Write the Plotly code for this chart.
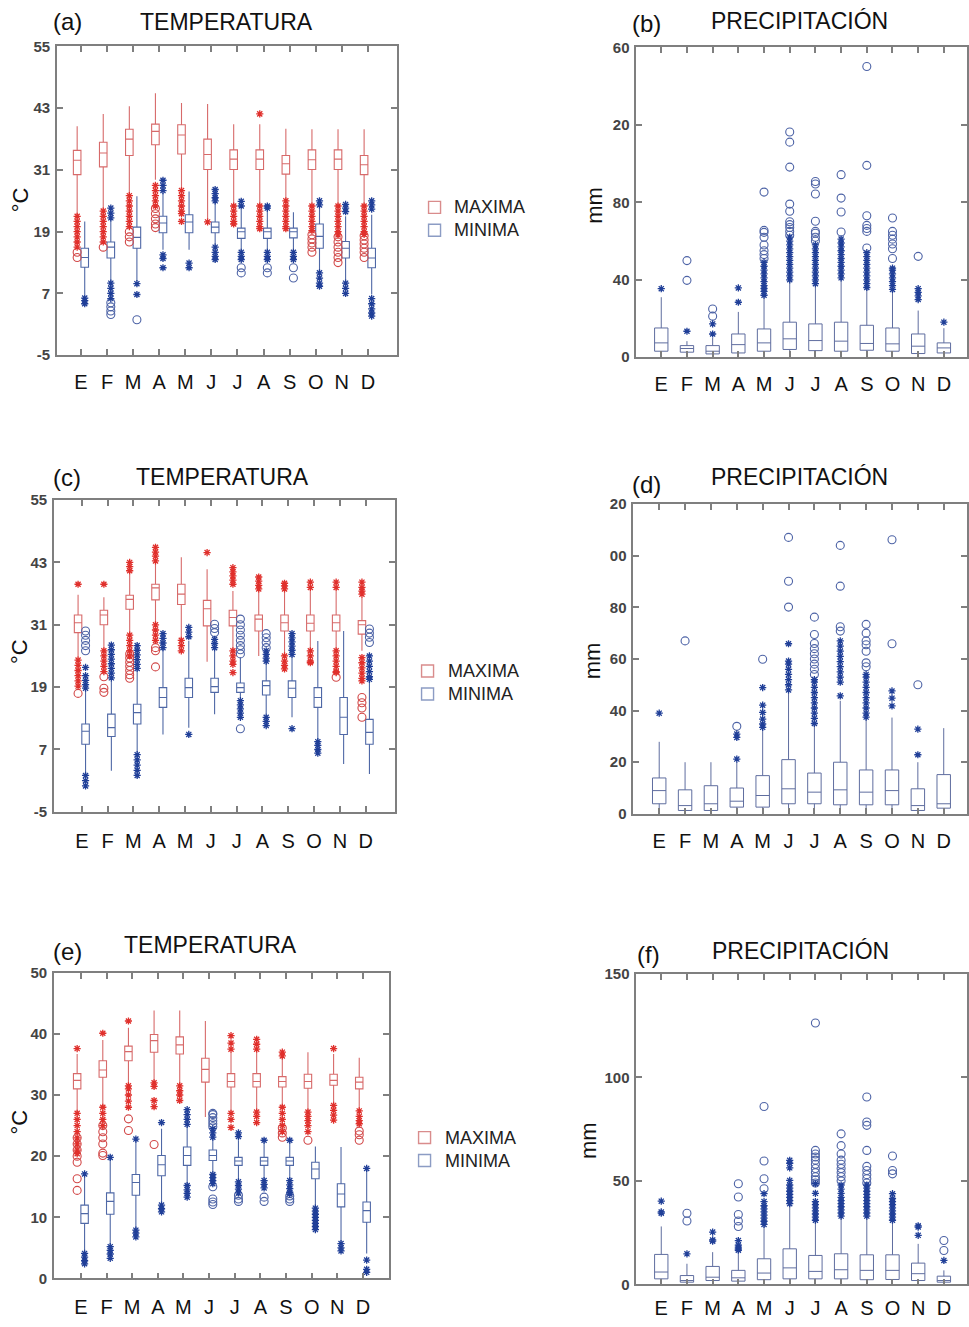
import plotly.graph_objects as go

W, H = 969, 1327
FONT = "Liberation Sans, Arial, sans-serif"

MONTHS = ["E", "F", "M", "A", "M", "J", "J", "A", "S", "O", "N", "D"]

# ---- box statistics per month: (lower whisker, q1, median, q3, upper whisker)
# ---- *_star: outside values (asterisks), *_ring: far outside values (circles)

# (a) temperature
a_max_box = [(22.3, 30.1, 32.9, 34.8, 39.5), (23.3, 31.6, 34.3, 36.4, 41.9), (26.3, 33.8, 37.0, 38.9, 43.4),
             (29.1, 35.9, 38.5, 39.9, 45.9), (27.4, 34.1, 37.8, 39.8, 44.0), (21.5, 31.1, 34.0, 37.0, 43.8),
             (24.3, 31.1, 33.1, 34.9, 39.9), (24.3, 31.1, 33.1, 34.9, 39.9), (25.2, 30.2, 32.2, 33.8, 39.0),
             (24.3, 31.1, 33.0, 34.9, 38.9), (24.3, 31.1, 33.1, 34.9, 38.9), (24.3, 30.1, 32.0, 33.8, 38.9)]
a_max_star = [[22, 21, 20, 19, 18, 17, 16], [23, 22, 21, 20, 19, 18, 17], [26, 25, 24, 23, 22, 21, 20],
              [28, 27, 26, 25, 24], [27, 26, 25, 24, 23, 22.5, 21], [20.9],
              [24, 23, 22, 21, 20.5], [41.9, 24, 23, 22, 21, 20, 19.6], [25, 24, 23, 22, 21, 20, 19.6],
              [24, 23, 22, 21, 20, 19.2], [24, 23, 22, 21, 20, 19, 18.4], [24, 23, 22, 21, 20, 19, 18.5]]
a_max_ring = [[15, 14], [16], [19, 18, 17], [23.5, 22.5, 21.5, 20.5, 19.8], [], [],
              [], [], [], [18.4, 17.6, 16.8, 16, 15], [18, 17, 16, 15, 14, 13], [18.2, 17.4, 16.6, 15.8, 15, 14]]
a_min_box = [(6.8, 12.1, 14.0, 15.8, 21.0), (9.4, 13.9, 16.0, 17.0, 21.3), (9.4, 15.8, 17.9, 19.9, 25.9),
             (15.5, 18.8, 20.7, 22.0, 26.5), (15.5, 18.8, 20.9, 22.3, 26.8), (16.5, 18.8, 19.9, 20.9, 24.6),
             (15.2, 17.7, 19.0, 19.7, 23.3), (15.2, 17.7, 19.0, 19.7, 23.3), (15.3, 17.8, 19.0, 19.7, 22.8),
             (11.3, 15.8, 18.1, 20.5, 23.9), (9.4, 13.9, 15.8, 17.1, 22.0), (6.8, 12.0, 13.9, 15.8, 22.3)]
a_min_star = [[6.1, 5.6, 5.0], [23.6, 22.6, 21.7, 9.0, 8.0, 7.0, 6.0], [8.9, 6.8],
              [29.0, 28.0, 27.0, 14.5, 13.8, 12.0], [12.9, 12.0], [27.2, 26.4, 25.6, 25.0, 16, 15, 14.2, 13.6],
              [24.9, 24.0, 15, 14.2, 13.6], [24.0, 23.6, 15, 14.2, 13.6], [15, 14.2, 13.6],
              [25.0, 24.2, 11.0, 10.0, 9.0, 8.4], [24.3, 23.6, 22.9, 9.0, 8.0, 7.0], [25.0, 24.2, 23.4, 6.0, 5.0, 4.0, 3.2, 2.6]]
a_min_ring = [[], [5.2, 4.4, 3.6, 2.9], [1.9], [], [], [], [12.0, 11.0], [12.0, 11.0], [12.0, 10.0], [], [], []]

# (b) precipitation
b_box = [(0, 3.1, 7.4, 15.1, 31.0), (0, 2.6, 4.5, 6.0, 8.3), (0, 1.7, 3.1, 6.0, 10.0), (0, 2.2, 6.5, 12.0, 23.4),
         (0, 3.1, 7.4, 14.6, 31.5), (0, 4.0, 9.5, 18.1, 39.2), (0, 3.4, 8.6, 17.2, 37.8), (0, 3.1, 8.3, 18.1, 40.1),
         (0, 3.6, 7.1, 16.5, 35.8), (0, 3.1, 6.9, 15.1, 34.1), (0, 1.9, 5.7, 12.0, 24.1), (0, 2.2, 4.8, 7.4, 15.0)]
b_star = [[35.4], [13.4], [12.0, 17.2], [28.4, 35.8],
          [32, 34, 35.5, 37, 39, 41, 43, 45, 47, 49],
          [40, 42, 44, 46, 48, 50, 52, 54, 56, 58, 60, 62],
          [38, 40, 42, 44, 46, 48, 50, 52, 54, 56, 58],
          [41, 43, 45, 47, 49, 51, 53, 55, 57, 59, 61],
          [36, 38, 40, 42, 44, 46, 48, 50, 52, 54],
          [35, 37, 39, 41, 43, 45, 46], [29.8, 31.7, 33.5, 35.4], [18.1]]
b_ring = [[], [39.7, 49.9], [21.2, 24.9], [],
          [51, 53, 55, 58, 62, 64.5, 65.5, 85.3],
          [63, 65, 67, 68.5, 70, 75.4, 79.1, 98.2, 111.1, 116.3],
          [60, 62, 64, 65, 70.2, 84.3, 89.5, 90.8],
          [64.7, 75, 82.2, 94.3],
          [56.4, 65, 66.5, 68.1, 73.1, 99.1, 150.2],
          [51, 56, 58.5, 61, 63, 65, 71.9], [52.1], []]

# (c) temperature
c_max_box = [(24.7, 29.5, 31.4, 32.9, 36.8), (26.3, 31.0, 32.9, 33.8, 36.3), (29.2, 34.0, 35.9, 36.7, 40.8),
             (31.1, 35.8, 38.1, 38.8, 43.0), (28.2, 34.9, 36.9, 38.8, 44.0), (23.9, 30.8, 34.1, 35.7, 41.7),
             (26.0, 30.8, 32.4, 33.8, 37.5), (25.0, 29.8, 32.1, 32.9, 37.5), (25.2, 29.8, 31.4, 32.9, 37.5),
             (26.1, 29.8, 31.3, 32.9, 37.5), (26.1, 29.8, 31.4, 32.9, 37.5), (26.0, 29.2, 31.0, 31.8, 36.3)]
c_max_star = [[38.8, 24.2, 23.2, 22.2, 21.2, 20.2, 19.2], [38.8, 26, 25, 24, 23, 22],
              [43.0, 42.2, 41.4, 29, 28, 27, 26, 25], [45.9, 45.0, 44.2, 43.3, 31.0, 30.0, 29.0, 28.0],
              [28.0, 27.0, 26.0], [44.9], [42.0, 41.2, 40.4, 39.6, 38.8, 26, 25, 24, 23.4, 21.8],
              [40.2, 39.4, 38.6, 37.9], [39.0, 38.5, 37.9, 25.0, 24.0, 23.2, 22.5],
              [39.2, 38.2, 26, 25, 24, 23.7], [39.2, 38.2, 26, 25, 24, 23, 22, 21.8],
              [39.2, 38.2, 37.5, 36.9, 24.7, 23.7, 22.7, 21.7, 20.7, 20.2]]
c_max_ring = [[17.8], [21.0, 18.8, 18.0], [25.4, 24.6, 23.8, 23.0, 22.2, 21.4, 20.7], [26.6, 26.0, 22.9],
              [], [], [], [], [], [], [20.9], [17.0, 16.0, 15.0, 13.2]]
c_min_box = [(2.3, 8.0, 10.5, 11.9, 18.3), (2.9, 9.5, 11.2, 13.8, 20.2), (6.4, 11.9, 14.1, 15.7, 22.0),
             (9.9, 15.1, 17.0, 18.9, 26.3), (11.2, 17.0, 18.9, 20.7, 27.9), (13.8, 18.0, 19.1, 20.7, 26.3),
             (17.0, 18.0, 18.9, 19.8, 24.7), (13.8, 17.5, 19.3, 20.2, 23.7), (13.2, 17.0, 18.8, 20.2, 24.7),
             (8.7, 15.1, 17.0, 18.9, 27.9), (4.2, 9.9, 13.2, 17.0, 29.8), (2.3, 8.0, 10.3, 12.8, 20.2)]
c_min_star = [[18.8, 19.5, 20.3, 21.2, 22.8, 2.0, 1.0, 0.0],
              [27.1, 26.2, 25.3, 24.4, 23.5, 22.6, 21.7, 20.8],
              [27.0, 26.1, 25.2, 24.3, 23.4, 22.6, 6.0, 5.0, 4.0, 3.0, 2.0],
              [29.3, 28.4, 27.5, 26.6], [30.5, 29.6, 28.7, 9.9], [28.2, 27.4, 26.6],
              [16.4, 15.6, 14.8, 14.0, 13.2], [26.0, 25.3, 24.6, 24.0, 13.2, 12.4, 11.6],
              [29.3, 28.5, 27.7, 26.9, 26.1, 25.3, 11.0], [8.5, 7.8, 7.0, 6.3], [],
              [25.0, 24.0, 23.0, 22.0, 21.0, 20.5]]
c_min_ring = [[26.0, 27.0, 28.0, 29.0, 29.8], [], [], [], [], [31.1, 30.3, 29.5],
              [32.1, 31.0, 30.0, 29.0, 28.0, 27.0, 26.2, 25.4, 11.0], [29.3, 28.5, 27.6, 26.6],
              [], [], [], [30.2, 29.4, 28.6, 27.6]]

# (d) precipitation
d_box = [(0, 3.9, 9.0, 13.9, 27.9), (0, 1.3, 3.2, 9.3, 20.0), (0, 1.3, 3.9, 10.9, 20.0), (0, 2.6, 4.9, 10.0, 20.0),
         (0, 2.6, 7.1, 14.8, 32.8), (0, 3.9, 9.7, 21.0, 47.6), (0, 3.9, 8.4, 15.8, 34.8), (0, 3.5, 9.3, 20.0, 43.8),
         (0, 3.5, 8.4, 17.0, 37.3), (0, 3.5, 9.0, 17.0, 37.3), (0, 1.3, 3.2, 9.7, 20.0), (0, 2.2, 3.9, 15.2, 33.2)]
d_star = [[39.0], [], [], [21.2, 29.6, 30.9],
          [33.5, 34.8, 36.7, 39.3, 42.1, 48.9],
          [48, 50, 52, 54, 56, 58, 59.2, 65.9],
          [35, 37, 39, 41, 43, 45, 47, 49, 51, 52],
          [45.7, 51, 53, 55, 57, 59, 61, 63, 65, 67],
          [37.5, 39, 41, 43, 45, 47, 49, 51, 53, 54],
          [41.8, 44.8, 47.6], [22.9, 32.8], []]
d_ring = [[], [67.0], [], [33.9], [59.9], [80.1, 90.1, 107.1],
          [54, 56, 58, 60, 62, 64, 66, 69.5, 76.2], [70.8, 72.5, 88.2, 104.0],
          [57, 58.5, 63, 65.5, 67, 70, 73.4], [65.9, 106.2], [50.0], []]

# (e) temperature
e_max_box = [(27.2, 31.0, 32.4, 33.5, 36.7), (28.0, 32.9, 34.1, 35.6, 39.0), (31.8, 35.6, 37.1, 38.0, 41.0),
             (32.3, 37.0, 38.9, 39.9, 43.8), (31.8, 36.7, 38.2, 39.5, 43.8), (26.4, 32.1, 34.2, 36.0, 42.1),
             (27.4, 31.3, 32.2, 33.5, 37.0), (27.4, 31.3, 32.2, 33.5, 37.0), (28.0, 31.3, 32.2, 33.0, 36.1),
             (27.4, 31.1, 32.2, 33.4, 37.0), (28.3, 31.6, 32.4, 33.4, 36.7), (27.4, 31.0, 32.1, 32.9, 36.1)]
e_max_star = [[37.6, 27, 26, 25, 24, 23, 22, 21, 20.4], [40.1, 28, 27, 26, 25], [42.1, 31.5, 31, 30, 29, 28],
              [32.0, 31.4, 29.1, 28.1], [31.5, 30.7, 30.0, 29.1], [],
              [39.7, 38.5, 37.5, 27, 26, 24.7], [39.1, 38.3, 37.5, 27.2, 26.5, 25.5],
              [37.0, 36.4, 28, 27, 26, 25, 24], [27.2, 26.5, 25.8, 25, 24],
              [37.6, 28.3, 27.5, 26.7, 25.9], [27.4, 26.5, 25.8, 25.3]]
e_max_ring = [[23, 22, 21, 20, 19, 16.3, 14.4], [25, 24, 23, 22, 20.5, 20.1], [26.1, 24.2], [21.9], [], [],
              [], [], [24.6, 23.8, 23.1], [22.6], [], [24.1, 23.5, 22.6]]
e_min_box = [(4.3, 9.0, 10.6, 12.0, 17.1), (5.4, 10.5, 12.6, 14.0, 19.8), (8.2, 13.6, 15.7, 17.0, 23.1),
             (12.2, 16.8, 18.6, 20.1, 24.5), (15.5, 18.5, 20.1, 21.5, 26.4), (17.5, 19.3, 20.1, 21.0, 22.8),
             (16.0, 18.5, 19.2, 19.8, 22.6), (16.3, 18.5, 19.2, 19.8, 22.4), (16.0, 18.5, 19.2, 19.8, 22.4),
             (11.7, 16.3, 17.9, 19.0, 21.6), (6.0, 11.7, 13.8, 15.5, 21.5), (4.1, 9.2, 11.1, 12.5, 18.0)]
e_min_star = [[17.1, 4.1, 3.5, 2.9, 2.4], [19.8, 5.2, 4.6, 4.0, 3.3], [22.8, 7.9, 7.4, 6.8],
              [25.5, 12.0, 11.4, 10.9], [27.6, 26.8, 26.0, 25.2, 15.2, 14.5, 13.9, 13.3],
              [23.1, 23.8, 24.5, 17.0, 16.5, 16.0, 15.5],
              [23.8, 23.2, 15.8, 15.2, 14.6, 14.0], [22.6, 16.0, 15.4, 14.8],
              [22.6, 16.0, 15.3, 14.7, 14.1, 13.8], [11.5, 11.0, 10.5, 10.0, 9.5, 9.0, 8.5, 8.0],
              [5.7, 5.0, 4.5], [18.0, 3.0, 1.5, 1.0]]
e_min_ring = [[], [], [], [], [], [24.8, 25.3, 25.8, 26.3, 26.8, 27.0, 15.0, 13.0, 12.5, 12.1],
              [13.6, 13.0, 12.6], [13.3, 12.6], [13.5, 13.0, 12.6], [], [], []]

# (f) precipitation
f_box = [(0, 2.7, 6.0, 14.5, 28.0), (0, 1.1, 1.9, 4.3, 10.0), (0, 1.9, 3.5, 8.7, 15.6), (0, 1.6, 3.2, 6.8, 15.0),
         (0, 2.3, 5.5, 12.4, 28.5), (0, 2.7, 8.0, 17.2, 38.6), (0, 2.7, 6.3, 14.0, 30.9), (0, 2.7, 7.1, 14.8, 32.5),
         (0, 2.3, 6.8, 14.3, 32.8), (0, 2.4, 6.8, 14.3, 30.9), (0, 1.9, 5.2, 10.3, 19.6), (0, 1.1, 1.9, 4.0, 6.8)]
f_star = [[34.4, 35.0, 40.2], [14.8], [20.9, 21.5, 25.3], [16.5, 17.2, 18.0, 19.0, 21.2],
          [29, 30.5, 32, 33.5, 35, 36.5, 38, 40, 43.8],
          [39, 40.5, 42, 43.5, 45, 46.5, 48, 50.2, 56.3, 58.5, 59.9],
          [31, 32.5, 34, 35.5, 37, 38.5, 40, 44, 48.6],
          [33, 34.5, 36, 37.5, 39, 40.5, 42, 44, 46, 48],
          [33, 34.5, 36, 37.5, 39, 40.5, 42, 43.5, 45, 46.5, 48],
          [31, 32.5, 34, 35.5, 37, 38.5, 40, 41.5, 43.8], [23.7, 27.7, 28.3], [11.6]]
f_ring = [[], [30.6, 34.4], [], [28.0, 30.6, 33.8, 42.2, 48.6], [46.2, 51.0, 59.6, 85.9], [],
          [49, 50.5, 52, 54, 56, 58, 60, 61.5, 63, 64.7, 126.2],
          [50, 52, 54, 56, 58, 60, 63, 67, 72.7],
          [49, 51, 53, 55, 57, 64.7, 76.8, 78.4, 90.5], [53.4, 55.0, 62.0], [], [16.4, 21.2]]

# y tick values and their printed labels
TEMP_TICKS = [-5, 7, 19, 31, 43, 55]
TEMP_TEXT = ["-5", "7", "19", "31", "43", "55"]
E_TICKS = [0, 10, 20, 30, 40, 50]
E_TEXT = ["0", "10", "20", "30", "40", "50"]
B_TICKS = [0, 40, 80, 120, 160]
B_TEXT = ["0", "40", "80", "20", "60"]
D_TICKS = [0, 20, 40, 60, 80, 100, 120]
D_TEXT = ["0", "20", "40", "60", "80", "00", "20"]
F_TICKS = [0, 50, 100, 150]
F_TEXT = ["0", "50", "100", "150"]
SERIES = ["MAXIMA", "MINIMA"]

# ---- colours
RED_BOX, RED_STAR, RED_RING = "#d76a6a", "#e0302c", "#d24848"
BLUE_BOX, BLUE_STAR, BLUE_RING = "#4f68a6", "#203f98", "#4d63a6"
PR_BOX = "#5f6d9f"
AXIS = "#7f7f7f"
KEY_COLORS = ["#d98c8c", "#8c9cc4"]

# page-pixel helpers (vertical placement corrected for the page offset)
Y_SCALE, Y_OFF = 0.988, 7.5


def px_x(x):
    return x / W


def px_y(y):
    return 1 - ((y - Y_OFF) / Y_SCALE) / H


fig = go.Figure()
layout = dict(width=W, height=H, margin=dict(l=0, r=0, t=0, b=0),
              paper_bgcolor="white", plot_bgcolor="white", showlegend=False,
              font=dict(family=FONT, color="#111"))

# panel frames: (pixel box left, right, top, bottom), x range, y range, ticks, label standoff
panels = {
    "a": dict(box=(57, 397, 45, 354), xr=(0.08, 13.1), yr=(-5, 55), tv=TEMP_TICKS, tt=TEMP_TEXT, so=8),
    "b": dict(box=(637, 968, 46, 356), xr=(0.03, 12.9), yr=(0, 160), tv=B_TICKS, tt=B_TEXT, so=8),
    "c": dict(box=(54, 395, 499, 811), xr=(-0.08, 13.12), yr=(-5, 55), tv=TEMP_TICKS, tt=TEMP_TEXT, so=10),
    "d": dict(box=(634, 968, 503, 813), xr=(0.0, 12.9), yr=(0, 120), tv=D_TICKS, tt=D_TEXT, so=8),
    "e": dict(box=(54, 389, 972, 1278), xr=(-0.05, 13.0), yr=(0, 50), tv=E_TICKS, tt=E_TEXT, so=10),
    "f": dict(box=(637, 968, 973, 1284), xr=(0.03, 12.9), yr=(0, 150), tv=F_TICKS, tt=F_TEXT, so=5),
}
axis_ids = {}
for i, (key, p) in enumerate(panels.items(), start=1):
    l, r, t, b = p["box"]
    sfx = "" if i == 1 else str(i)
    axis_ids[key] = ("x" + sfx, "y" + sfx)
    common = dict(showline=True, linecolor=AXIS, linewidth=1.6, mirror="ticks", ticks="inside",
                  ticklen=6, tickcolor=AXIS, tickwidth=1.6, showgrid=False, zeroline=False,
                  type="linear", fixedrange=True)
    layout["xaxis" + sfx] = dict(common, domain=[px_x(l), px_x(r)], range=list(p["xr"]),
                                 anchor="y" + sfx, tickvals=list(range(1, 13)), ticktext=MONTHS,
                                 tickfont=dict(family=FONT, size=20, color="#111"),
                                 ticklabelstandoff=p["so"])
    layout["yaxis" + sfx] = dict(common, domain=[px_y(b), px_y(t)], range=list(p["yr"]),
                                 anchor="x" + sfx, tickvals=p["tv"], ticktext=p["tt"],
                                 tickfont=dict(family=FONT, size=15, color="#444", weight="bold"),
                                 ticklabelstandoff=2)

POS = list(range(1, 13))


def add_box(key, stats, off, width, color, lw=1.1):
    xa, ya = axis_ids[key]
    fig.add_trace(go.Box(
        x=[m + off for m in POS],
        lowerfence=[s[0] for s in stats], q1=[s[1] for s in stats], median=[s[2] for s in stats],
        q3=[s[3] for s in stats], upperfence=[s[4] for s in stats],
        width=width, whiskerwidth=0, boxpoints=False, fillcolor="rgba(255,255,255,0)",
        line=dict(color=color, width=lw), xaxis=xa, yaxis=ya, showlegend=False, hoverinfo="skip"))


def add_points(key, groups, off, symbol, size, color, lw):
    xa, ya = axis_ids[key]
    xs, ys = [], []
    for m, vals in zip(POS, groups):
        xs += [m + off] * len(vals)
        ys += list(vals)
    fig.add_trace(go.Scatter(
        x=xs, y=ys, mode="markers", xaxis=xa, yaxis=ya, showlegend=False, hoverinfo="skip",
        marker=dict(symbol=symbol, size=size, color=color, line=dict(color=color, width=lw))))


TW = 0.29
for key, mx, mxs, mxr, mn, mns, mnr in [
        ("a", a_max_box, a_max_star, a_max_ring, a_min_box, a_min_star, a_min_ring),
        ("c", c_max_box, c_max_star, c_max_ring, c_min_box, c_min_star, c_min_ring),
        ("e", e_max_box, e_max_star, e_max_ring, e_min_box, e_min_star, e_min_ring)]:
    add_box(key, mx, -TW / 2, TW, RED_BOX)
    add_box(key, mn, TW / 2, TW, BLUE_BOX)
    add_points(key, mxr, -TW / 2, "circle-open", 8, RED_RING, 1.1)
    add_points(key, mnr, TW / 2, "circle-open", 8, BLUE_RING, 1.1)
    add_points(key, mxs, -TW / 2, "asterisk-open", 6, RED_STAR, 1.3)
    add_points(key, mns, TW / 2, "asterisk-open", 6, BLUE_STAR, 1.3)

for key, bx, st, rg in [("b", b_box, b_star, b_ring), ("d", d_box, d_star, d_ring), ("f", f_box, f_star, f_ring)]:
    add_box(key, bx, 0, 0.52, PR_BOX, 1.0)
    add_points(key, rg, 0, "circle-open", 8, BLUE_RING, 1.1)
    add_points(key, st, 0, "asterisk-open", 6, BLUE_STAR, 1.3)

# series keys beside the three temperature panels: (square centre x, text left x, first row y)
shapes = []
annotations = []
for sx, tx, ty in [(435, 452, 206), (428, 446, 670), (425, 443, 1137)]:
    for k, (name, col) in enumerate(zip(SERIES, KEY_COLORS)):
        yy = ty + 23 * k
        shapes.append(dict(type="rect", xref="paper", yref="paper",
                           x0=px_x(sx - 6), x1=px_x(sx + 6), y0=px_y(yy + 6), y1=px_y(yy - 6),
                           line=dict(color=col, width=1.4), fillcolor="rgba(0,0,0,0)"))
        annotations.append(dict(text=name, x=px_x(tx), y=px_y(yy), xref="paper", yref="paper",
                                xanchor="left", yanchor="middle", showarrow=False,
                                font=dict(family=FONT, size=18, color="#222")))

# panel letters, titles, axis titles
texts = [
    ("(a)", 68, 20, 24, 0), ("TEMPERATURA", 227, 21, 23, 0), ("°C", 20, 198, 22, -90),
    ("(b)", 647, 22, 24, 0), ("PRECIPITACIÓN", 800, 20, 23, 0), ("mm", 595, 204, 22, -90),
    ("(c)", 67, 476, 24, 0), ("TEMPERATURA", 223, 476, 23, 0), ("°C", 20, 650, 22, -90),
    ("(d)", 647, 483, 24, 0), ("PRECIPITACIÓN", 800, 476, 23, 0), ("mm", 594, 660, 22, -90),
    ("(e)", 68, 951, 24, 0), ("TEMPERATURA", 211, 944, 23, 0), ("°C", 20, 1121, 22, -90),
    ("(f)", 649, 954, 24, 0), ("PRECIPITACIÓN", 801, 950, 23, 0), ("mm", 589, 1140, 22, -90),
]
annotations += [
    dict(text=t, x=px_x(x), y=px_y(y), xref="paper", yref="paper", xanchor="center", yanchor="middle",
         showarrow=False, textangle=ang, font=dict(family=FONT, size=s, color="#111"))
    for t, x, y, s, ang in texts]
layout["annotations"] = annotations
layout["shapes"] = shapes

fig.update_layout(**layout)
fig.write_html("out.html")
